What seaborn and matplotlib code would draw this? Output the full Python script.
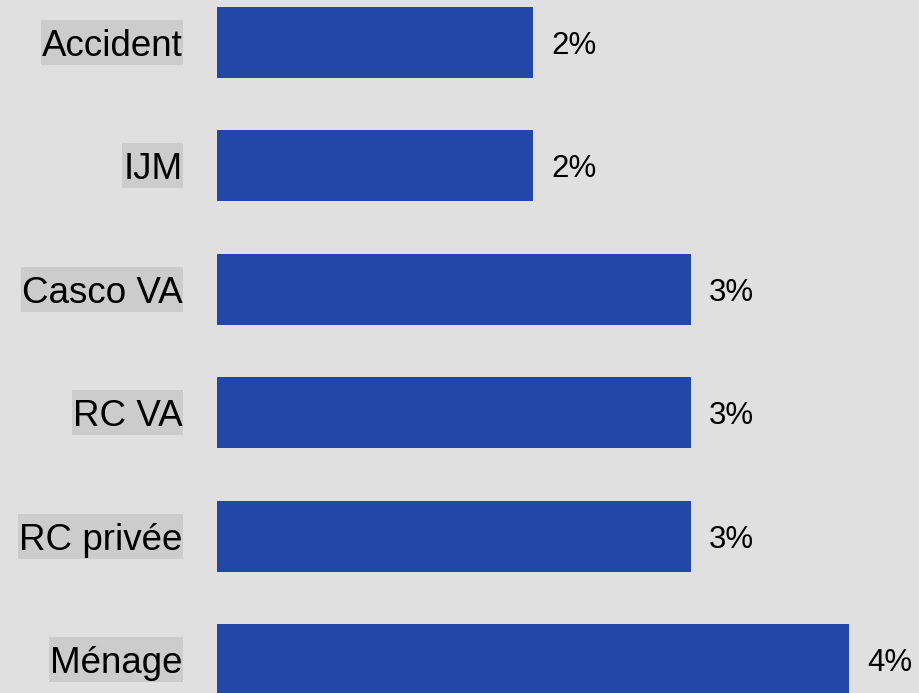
import matplotlib
matplotlib.use("Agg")
import matplotlib.pyplot as plt
import matplotlib.patches as mpatches
from matplotlib.transforms import IdentityTransform
import pandas as pd
import seaborn as sns

# Data
categories = ["Accident", "IJM", "Casco VA", "RC VA", "RC privée", "Ménage"]
values = [2, 2, 3, 3, 3, 4]
value_labels = ["2%", "2%", "3%", "3%", "3%", "4%"]

df = pd.DataFrame({"categorie": categories, "valeur": values})

sns.set_theme(style="white")
plt.rcParams["font.family"] = ["Liberation Sans", "DejaVu Sans"]

bg = "#e0e0e0"
bar_col = "#2247a8"
label_bg = "#cccccc"

fig = plt.figure(figsize=(9.19, 6.93), dpi=100, facecolor=bg)
ax = fig.add_axes([217 / 919, 0, (919 - 217) / 919, 1])
ax.set_facecolor("none")

sns.barplot(data=df, x="valeur", y="categorie", orient="h", color=bar_col,
            saturation=1, width=0.575, linewidth=0, ax=ax)

# limits so one unit = 158 px and rows are 123.4 px apart
ax.set_xlim(0, 702 / 158)
ax.set_ylim((693 - 42.5) / 123.4, -42.5 / 123.4)

txts = ax.bar_label(ax.containers[0], labels=value_labels, padding=13,
                    fontsize=22.5, color="black")
for t in txts:
    t.set_verticalalignment("center_baseline")

ax.set_xlabel("")
ax.set_ylabel("")
ax.set_xticks([])
ax.tick_params(axis="y", length=0, pad=25, labelsize=26.5, labelcolor="black")
for s in ax.spines.values():
    s.set_visible(False)

# grey box behind each category label, centred on its bar
fig.canvas.draw()
for i, lab in enumerate(ax.get_yticklabels()):
    bb = lab.get_window_extent()
    cy = ax.transData.transform((0, i))[1]
    rect = mpatches.Rectangle((bb.x0 - 1, cy - 22.5), bb.width + 2, 45,
                              transform=IdentityTransform(), facecolor=label_bg,
                              edgecolor="none", zorder=-1)
    fig.add_artist(rect)

fig.savefig("out.png", dpi=100, facecolor=bg)
